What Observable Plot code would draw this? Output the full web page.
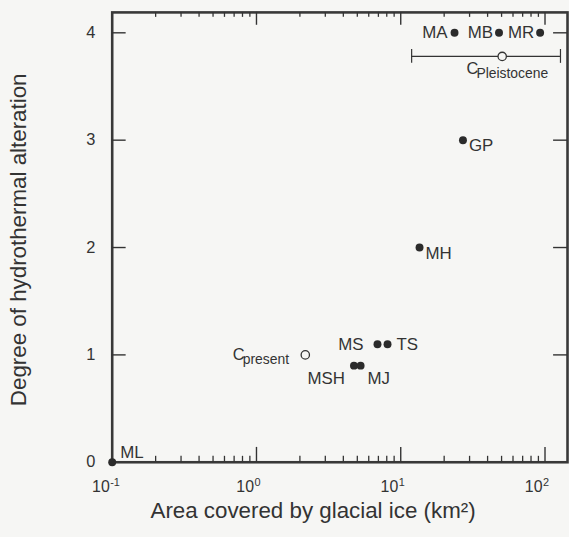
<!DOCTYPE html>
<html><head><meta charset="utf-8">
<script src="https://cdn.jsdelivr.net/npm/d3@7"></script>
<script src="https://cdn.jsdelivr.net/npm/@observablehq/plot@0.6"></script>
<style>
html,body{margin:0;padding:0;overflow:hidden;background:#f6f6f4;}
#chart{width:569px;height:537px;overflow:hidden;}
</style></head><body><div id="chart"></div>
<script>
// ---- data ----
const volcanoes = ["ML","MA","MB","MR","GP","MH","MS","TS","MSH","MJ"];
const iceArea   = [0.1, 23.6, 48, 92.5, 27, 13.5, 6.9, 8.1, 4.74, 5.27];
const alteration= [0, 4, 4, 4, 3, 2, 1.1, 1.1, 0.9, 0.9];
const compositeNames = ["present","Pleistocene"];
const compositeArea  = [2.18, 50.5];
const compositeAlt   = [1.0, 3.78];
const compositeLow   = [null, 11.9];
const compositeHigh  = [null, 128];
const xTickValues = [0.1, 1, 10, 100];
const xTickExp    = ["-1", "0", "1", "2"];
const yTickValues = [0, 1, 2, 3, 4];
const xMinor = [0.2,0.3,0.4,0.5,0.6,0.7,0.8,0.9,2,3,4,5,6,7,8,9,20,30,40,50,60,70,80,90];
const xLabel = "Area covered by glacial ice (km\u00B2)";
const yLabel = "Degree of hydrothermal alteration";

// ---- styling (label placement) ----
const labelStyle = {
  ML:{dx:8,dy:-10,a:"start"}, MA:{dx:-7,dy:0,a:"end"}, MB:{dx:-6,dy:0,a:"end"},
  MR:{dx:-6,dy:0,a:"end"}, GP:{dx:6,dy:5.5,a:"start"}, MH:{dx:6,dy:6.5,a:"start"},
  MS:{dx:-14,dy:0,a:"end"}, TS:{dx:9,dy:0,a:"start"}, MSH:{dx:-9,dy:13.5,a:"end"},
  MJ:{dx:7,dy:13.5,a:"start"}
};
const compStyle = {
  present:{cdx:-73,cdy:0,sdx:-63,sdy:5},
  Pleistocene:{cdx:-36,cdy:12.5,sdx:-26,sdy:17}
};

const pts = volcanoes.map((n,i)=>({name:n, x:iceArea[i], y:alteration[i]}));
const comps = compositeNames.map((n,i)=>({name:n, x:compositeArea[i], y:compositeAlt[i], lo:compositeLow[i], hi:compositeHigh[i]}));
const bars = comps.filter(d=>d.lo!=null);

const X0 = 0.1, X1 = Math.pow(10, 2.156), Y1 = 4.19;
const PXY = 108.5; // px per y unit (for tick lengths)
const ink = "#333";
const bg = "#f6f6f4";
const font = "'Liberation Sans', Arial, Helvetica, sans-serif";
const yTickLen = Math.pow(10, 14/145);

const marks = [
  Plot.frame({stroke:"#383838", strokeWidth:2.6}),
  // bottom ticks
  Plot.ruleX(xMinor, {x:d=>d, y1:0, y2:6/PXY, stroke:ink, strokeWidth:1.3}),
  Plot.ruleX(xTickValues.slice(1), {x:d=>d, y1:0, y2:15/PXY, stroke:ink, strokeWidth:1.4}),
  // top ticks
  Plot.ruleX(xMinor, {x:d=>d, y1:Y1, y2:Y1-5/PXY, stroke:ink, strokeWidth:1.3}),
  Plot.ruleX(xTickValues.slice(1), {x:d=>d, y1:Y1, y2:Y1-13/PXY, stroke:ink, strokeWidth:1.4}),
  // left / right ticks
  Plot.ruleY(yTickValues.slice(1), {y:d=>d, x1:X0, x2:X0*yTickLen, stroke:ink, strokeWidth:1.4}),
  Plot.ruleY(yTickValues.slice(1), {y:d=>d, x1:X1, x2:X1/yTickLen, stroke:ink, strokeWidth:1.4}),
  // y tick labels
  Plot.text(yTickValues, {x:X0, y:d=>d, text:d=>String(d), dx:-17, textAnchor:"end", fontSize:16.5, fill:ink, fontFamily:font}),
  // x tick labels
  Plot.text(xTickValues, {x:d=>d, y:0, text:()=> "10", dx:-2.5, dy:25, textAnchor:"end", fontSize:16, fill:ink, fontFamily:font}),
  Plot.text(xTickValues, {x:d=>d, y:0, text:(d,i)=>xTickExp[i], dx:-2, dy:20, textAnchor:"start", fontSize:11, fill:ink, fontFamily:font}),
  // error bar
  Plot.ruleY(bars, {y:"y", x1:"lo", x2:"hi", stroke:ink, strokeWidth:1.2}),
  Plot.ruleX(bars, {x:"lo", y1:d=>d.y-7/PXY, y2:d=>d.y+7/PXY, stroke:ink, strokeWidth:1.2}),
  Plot.ruleX(bars, {x:"hi", y1:d=>d.y-7/PXY, y2:d=>d.y+7/PXY, stroke:ink, strokeWidth:1.2}),
  // composite open circles
  Plot.dot(comps, {x:"x", y:"y", r:4.2, stroke:ink, strokeWidth:1.3, fill:bg}),
  // volcano points
  Plot.dot(pts, {x:"x", y:"y", r:4, fill:"#2b2b2b"})
];

// composite labels: C with subscript
for (const c of comps) {
  const s = compStyle[c.name];
  marks.push(Plot.text([c], {x:"x", y:"y", text:()=> "C", dx:s.cdx, dy:s.cdy, textAnchor:"start", fontSize:16.5, fill:ink, fontFamily:font}));
  marks.push(Plot.text([c], {x:"x", y:"y", text:"name", dx:s.sdx, dy:s.sdy, textAnchor:"start", fontSize:14, fill:ink, fontFamily:font}));
}
// volcano labels
for (const p of pts) {
  const s = labelStyle[p.name];
  marks.push(Plot.text([p], {x:"x", y:"y", text:"name", dx:s.dx, dy:s.dy, textAnchor:s.a, fontSize:17, fill:ink, fontFamily:font}));
}
// axis titles
marks.push(Plot.text([xLabel], {frameAnchor:"bottom", text:d=>d, textAnchor:"middle", dx:-27, dy:56, fontSize:22.5, fill:ink, fontFamily:font}));
marks.push(Plot.text([yLabel], {frameAnchor:"left", text:d=>d, textAnchor:"middle", rotate:-90, dx:-94.5, dy:2.5, fontSize:22.5, fill:ink, fontFamily:font}));

const chart = Plot.plot({
  width:573, height:537,
  marginLeft:112.5, marginRight:2, marginTop:12, marginBottom:72,
  style:{background:bg, fontFamily:font, overflow:"visible"},
  x:{type:"log", domain:[X0, X1], axis:null},
  y:{type:"linear", domain:[0, Y1], axis:null},
  marks
});
document.getElementById("chart").appendChild(chart);
</script></body></html>
